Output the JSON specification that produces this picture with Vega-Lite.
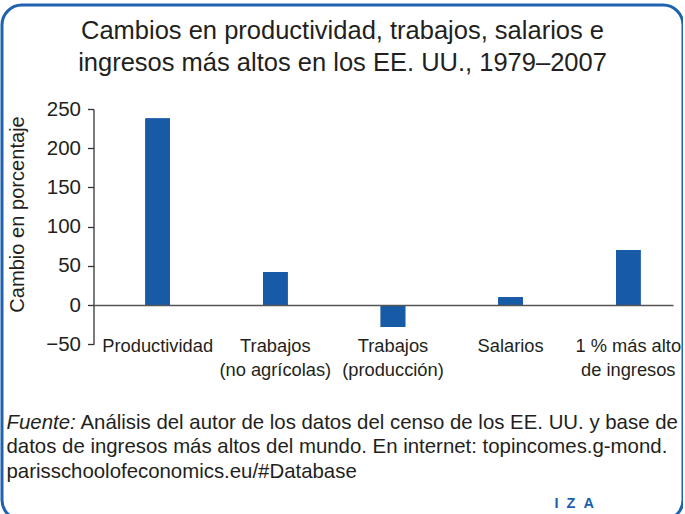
{
  "$schema": "https://vega.github.io/schema/vega-lite/v6.json",
  "width": 681,
  "height": 515,
  "autosize": {"type": "none"},
  "padding": {"left": 2, "top": 5, "right": 0, "bottom": 0},
  "background": "white",
  "config": {
    "font": "Liberation Sans",
    "view": {"stroke": "#1f62b0", "strokeWidth": 3, "cornerRadius": 20, "fill": "white"},
    "axis": {"grid": false}
  },
  "title": {
    "text": ["Cambios en productividad, trabajos, salarios e", "ingresos más altos en los EE. UU., 1979–2007"],
    "fontSize": 25.5,
    "fontWeight": "normal",
    "font": "Liberation Sans",
    "color": "#231f20",
    "lineHeight": 32,
    "anchor": "middle",
    "frame": "group",
    "offset": -71.6
  },
  "data": {
    "values": [
      {"categoria": "Productividad", "cambio": 238},
      {"categoria": "Trabajos\n(no agrícolas)", "cambio": 42},
      {"categoria": "Trabajos\n(producción)", "cambio": -28},
      {"categoria": "Salarios", "cambio": 10},
      {"categoria": "1 % más alto\nde ingresos", "cambio": 70}
    ]
  },
  "resolve": {"axis": {"x": "independent", "y": "independent"}},
  "layer": [
    {
      "mark": {"type": "bar", "color": "#175aa6"},
      "encoding": {
        "x": {
          "field": "categoria", "type": "nominal", "sort": null,
          "scale": {"range": [91.5, 671], "paddingInner": 0.792, "paddingOuter": 0.359, "align": 0.615},
          "axis": {
            "orient": "bottom", "offset": -215, "zindex": 1,
            "domain": true, "domainColor": "#555555", "domainWidth": 1.6,
            "ticks": false, "tickSize": 0,
            "labelAngle": 0, "labelPadding": 46.7, "labelBaseline": "alphabetic",
            "labelFontSize": 18.3, "labelLineHeight": 23.5, "labelColor": "#231f20",
            "labelOverlap": false, "labelBound": false,
            "labelExpr": "split(datum.label, '\\n')",
            "title": ["datos de ingresos más altos del mundo. En internet: topincomes.g-mond.", "parisschoolofeconomics.eu/#Database"],
            "titleX": 4, "titleY": 147.8, "titleAlign": "left", "titleAnchor": "start",
            "titleBaseline": "alphabetic", "titleFontSize": 20.4, "titleLineHeight": 24.5,
            "titleFontWeight": "normal", "titleColor": "#231f20"
          }
        },
        "y": {
          "field": "cambio", "type": "quantitative",
          "scale": {"domain": [-50, 250], "range": [339.2, 104], "nice": false, "zero": false},
          "axis": {
            "orient": "left", "offset": -91.5,
            "values": [-50, 0, 50, 100, 150, 200, 250],
            "domain": true, "domainColor": "#333333", "domainWidth": 1.3,
            "ticks": true, "tickColor": "#333333", "tickWidth": 1.3, "tickSize": 6,
            "labelPadding": 7, "labelFontSize": 20.5, "labelColor": "#231f20",
            "labelOverlap": false, "labelBound": false,
            "title": "Cambio en porcentaje",
            "titleX": -70.2, "titleY": 209, "titleAngle": -90, "titleAlign": "center",
            "titleBaseline": "alphabetic", "titleFontSize": 20.1, "titleFontWeight": "normal",
            "titleColor": "#231f20"
          }
        }
      }
    },
    {
      "mark": {"type": "bar", "color": "#175aa6"},
      "encoding": {
        "x": {
          "field": "categoria", "type": "nominal", "sort": null,
          "scale": {"range": [91.5, 671], "paddingInner": 0.792, "paddingOuter": 0.359, "align": 0.615},
          "axis": {
            "orient": "top", "offset": 0,
            "domain": false, "ticks": false, "labels": false,
            "title": "Fuente:",
            "titleX": 4, "titleY": 423.3, "titleAlign": "left", "titleAnchor": "start",
            "titleBaseline": "alphabetic", "titleFontSize": 20.4, "titleFontStyle": "italic",
            "titleFontWeight": "normal", "titleColor": "#231f20"
          }
        },
        "y": {
          "field": "cambio", "type": "quantitative",
          "scale": {"domain": [-50, 250], "range": [339.2, 104], "nice": false, "zero": false},
          "axis": {
            "orient": "right", "offset": 0,
            "domain": false, "ticks": false, "labels": false,
            "title": "I\u00a0\u00a0Z\u00a0\u00a0A",
            "titleX": -129, "titleY": 502, "titleAngle": 0, "titleAlign": "left",
            "titleBaseline": "alphabetic", "titleFontSize": 14.5, "titleFontWeight": "bold",
            "titleColor": "#1d5fae"
          }
        }
      }
    },
    {
      "mark": {"type": "bar", "color": "#175aa6"},
      "encoding": {
        "x": {
          "field": "categoria", "type": "nominal", "sort": null,
          "scale": {"range": [91.5, 671], "paddingInner": 0.792, "paddingOuter": 0.359, "align": 0.615},
          "axis": {
            "orient": "top", "offset": 0,
            "domain": false, "ticks": false, "labels": false,
            "title": "Análisis del autor de los datos del censo de los EE. UU. y base de",
            "titleX": 78, "titleY": 423.3, "titleAlign": "left", "titleAnchor": "start",
            "titleBaseline": "alphabetic", "titleFontSize": 20.4,
            "titleFontWeight": "normal", "titleColor": "#231f20"
          }
        },
        "y": {
          "field": "cambio", "type": "quantitative",
          "scale": {"domain": [-50, 250], "range": [339.2, 104], "nice": false, "zero": false},
          "axis": null
        }
      }
    }
  ]
}
